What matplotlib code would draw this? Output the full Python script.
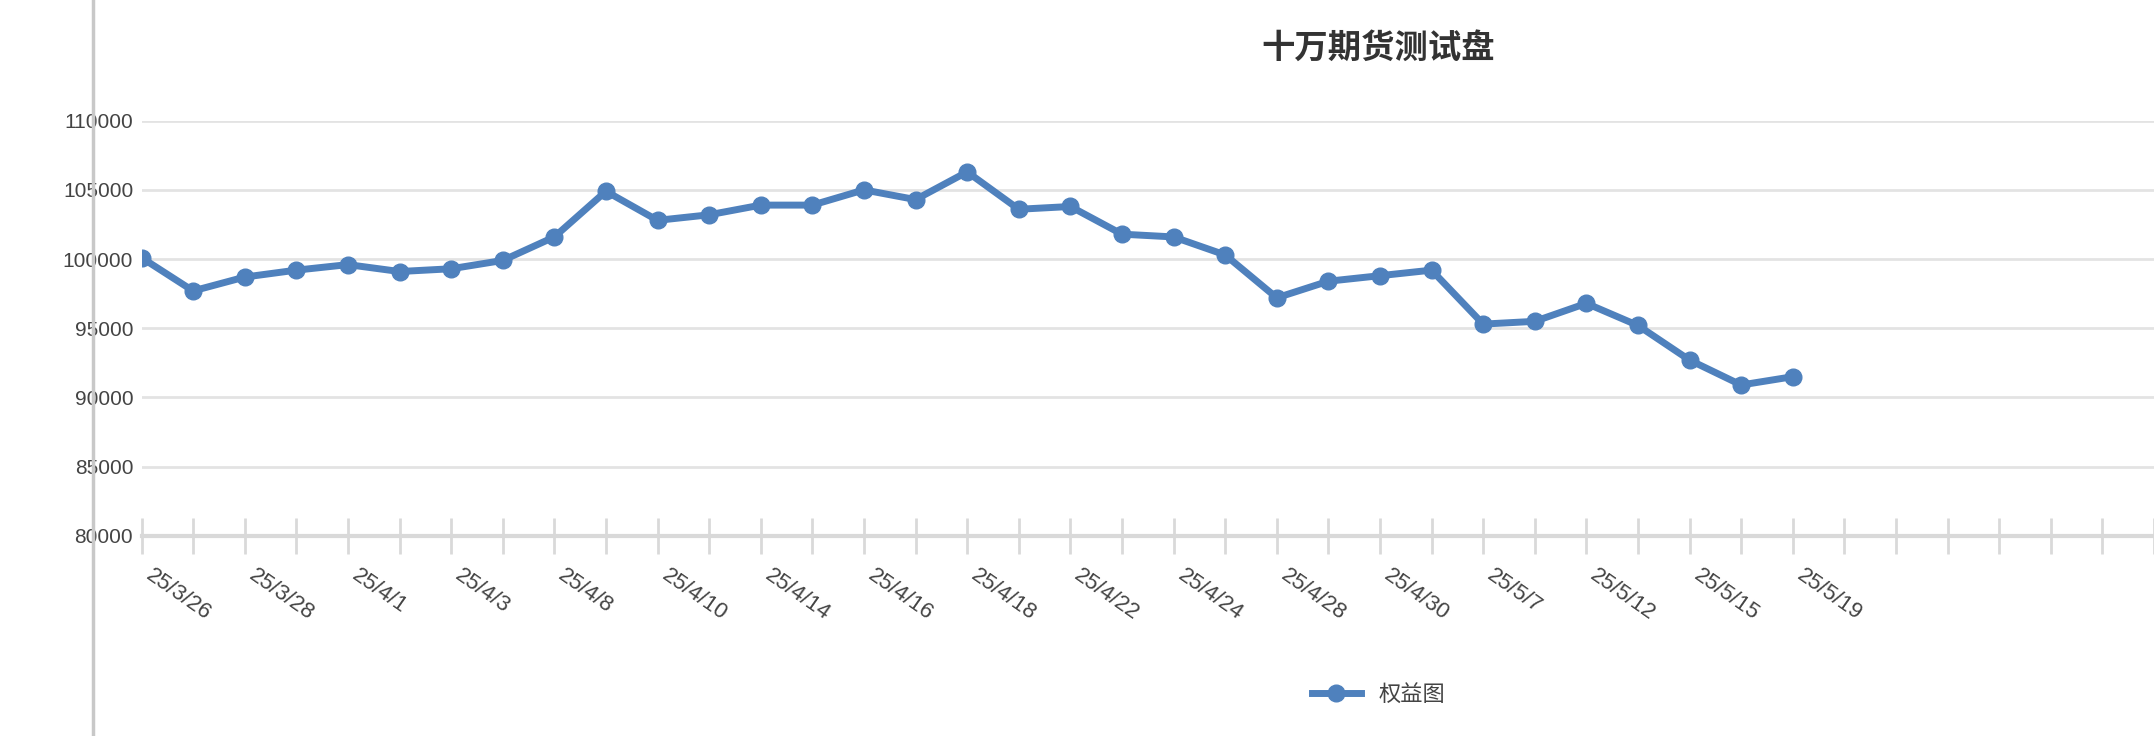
import matplotlib.pyplot as plt
from matplotlib.lines import Line2D

# 交易日 (33个有数据) + 空位
dates = ['25/3/26', '25/3/27', '25/3/28', '25/3/31', '25/4/1', '25/4/2', '25/4/3', '25/4/7',
         '25/4/8', '25/4/9', '25/4/10', '25/4/11', '25/4/14', '25/4/15', '25/4/16', '25/4/17',
         '25/4/18', '25/4/21', '25/4/22', '25/4/23', '25/4/24', '25/4/25', '25/4/28', '25/4/29',
         '25/4/30', '25/5/6', '25/5/7', '25/5/9', '25/5/12', '25/5/13', '25/5/15', '25/5/16',
         '25/5/19']
equity = [100100, 97700, 98700, 99200, 99600, 99100, 99300, 99900,
          101600, 104900, 102800, 103200, 103900, 103900, 105000, 104300,
          106300, 103600, 103800, 101800, 101600, 100300, 97200, 98400,
          98800, 99200, 95300, 95500, 96800, 95200, 92700, 90900,
          91500]
n_slots = 40
yticks = [80000, 85000, 90000, 95000, 100000, 105000, 110000]

color = '#4f81bd'
fig = plt.figure(figsize=(21.54, 7.36), dpi=100)
ax = fig.add_axes([0.0657, 0.272, 0.9343, 0.564])

x = list(range(len(equity)))
ax.plot(x, equity, color=color, lw=5, marker='o', ms=12, zorder=3)

ax.set_xlim(0, n_slots - 1)
ax.set_ylim(80000, 110000)
ax.set_yticks(yticks)
ax.set_yticklabels([str(v) for v in yticks], fontsize=15, color='#444444',
                   fontfamily='Liberation Sans')
ax.grid(axis='y', color='#e3e3e3', lw=2)
ax.set_axisbelow(True)

ax.set_xticks(range(n_slots))
labels = [d if i % 2 == 0 else '' for i, d in enumerate(dates)]
labels += [''] * (n_slots - len(labels))
ax.set_xticklabels(labels, rotation=-35, ha='left', va='top', fontsize=16,
                   color='#444444', fontfamily='Liberation Sans')
ax.tick_params(axis='x', direction='inout', length=26, width=2, color='#d9d9d9', pad=8)
ax.tick_params(axis='y', length=0, pad=6)
for s in ['top', 'right', 'left']:
    ax.spines[s].set_visible(False)
ax.spines['bottom'].set_color('#d9d9d9')
ax.spines['bottom'].set_linewidth(3)

# 左侧竖线
fig.add_artist(Line2D([93 / 2154, 93 / 2154], [0, 1], color='#c8c8c8', lw=2.5))

fig.text(0.64, 0.935, '十万期货测试盘', ha='center', va='center', fontsize=24,
         fontweight='bold', color='#333333', fontfamily='Noto Sans CJK SC')

leg = Line2D([], [], color=color, lw=5, marker='o', ms=12)
fig.legend([leg], ['权益图'], loc='center', bbox_to_anchor=(0.64, 0.057), frameon=False,
           prop={'family': 'Noto Sans CJK SC', 'size': 16}, handlelength=2.2,
           labelcolor='#444444')

fig.savefig('out.png', dpi=100)
